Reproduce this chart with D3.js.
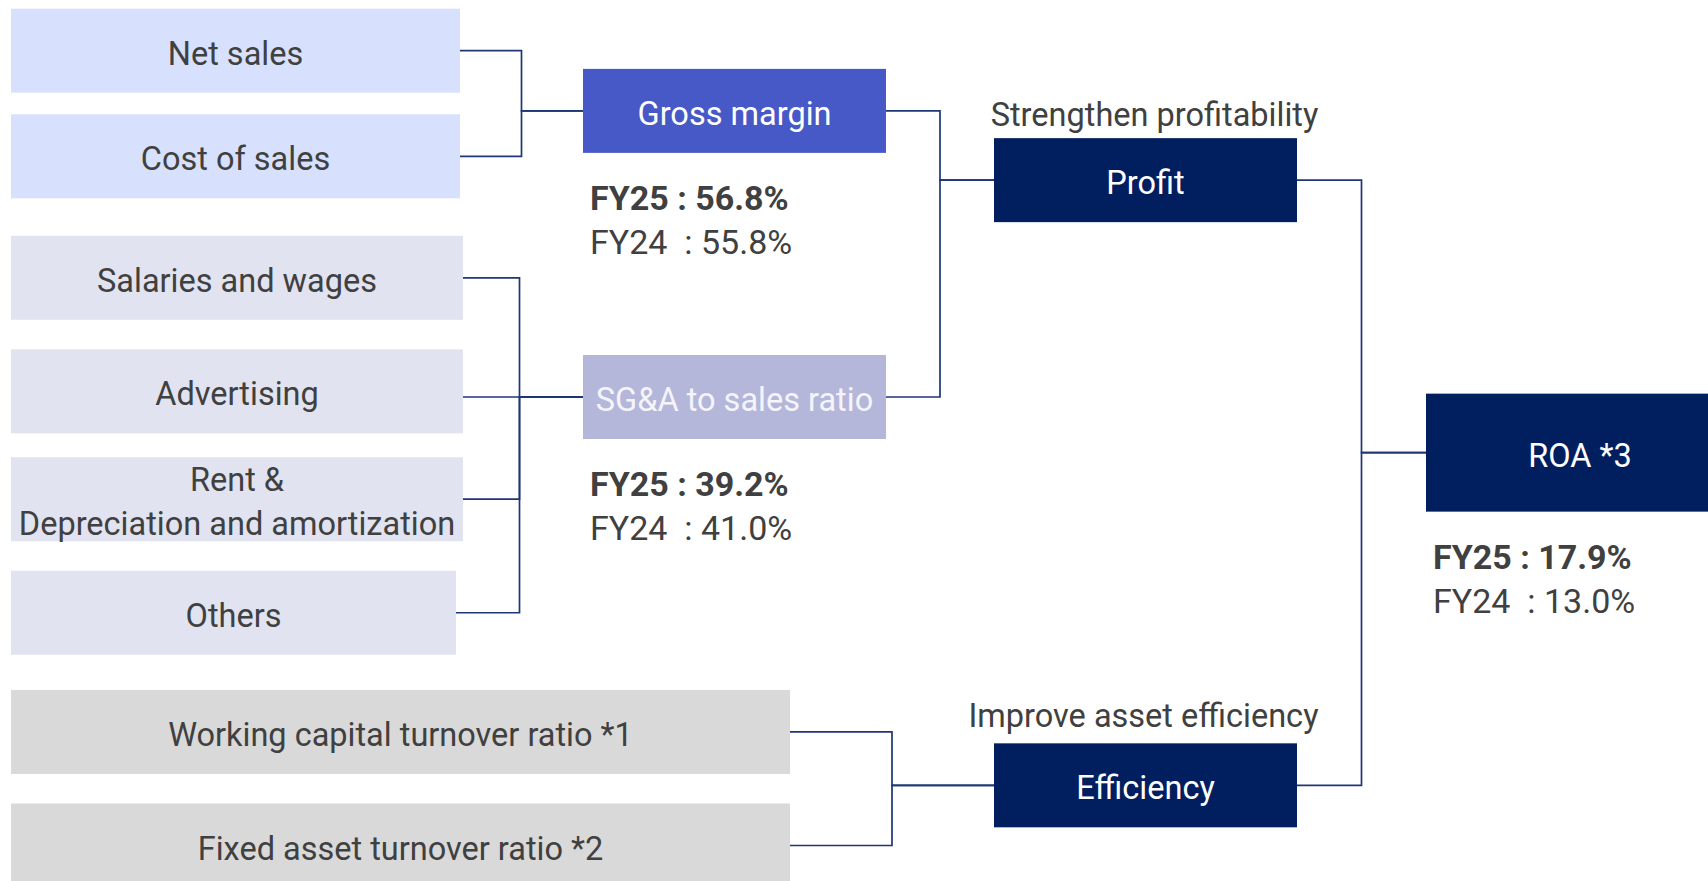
<!DOCTYPE html>
<html>
<head>
<meta charset="utf-8">
<script src="https://cdn.jsdelivr.net/npm/d3@7"></script>
<style>
  html, body { margin: 0; padding: 0; background: #fff; overflow: hidden; }
  svg { display: block; font-family: Roboto, "Noto Sans", sans-serif; }
</style>
</head>
<body>
<svg id="chart" width="1708" height="881"></svg>
<script>
'use strict';
/* global d3 */

// ---- data ----
var leafNames = ['Net sales', 'Cost of sales', 'Salaries and wages', 'Advertising',
  'Rent &\nDepreciation and amortization', 'Others',
  'Working capital turnover ratio *1', 'Fixed asset turnover ratio *2'];
var leafParents = ['Gross margin', 'Gross margin', 'SG&A to sales ratio', 'SG&A to sales ratio',
  'SG&A to sales ratio', 'SG&A to sales ratio', 'Efficiency', 'Efficiency'];
var midNames = ['Gross margin', 'SG&A to sales ratio'];
var midParents = ['Profit', 'Profit'];
var pillarNames = ['Profit', 'Efficiency'];
var pillarCaptions = ['Strengthen profitability', 'Improve asset efficiency'];
var rootName = 'ROA *3';
var kpiNames = ['Gross margin', 'SG&A to sales ratio', 'ROA *3'];
var fy25 = [56.8, 39.2, 17.9];
var fy24 = [55.8, 41.0, 13.0];

// ---- layout (row units / column index) ----
var leafRows = [0, 0.93, 2, 3, 3.95, 4.95, 6, 7];
var leafWidths = [449, 449, 452, 452, 452, 445, 779, 779];
var leafFills = ['#d7e1fd', '#d7e1fd', '#e1e3f1', '#e1e3f1', '#e1e3f1', '#e1e3f1', '#d9d9d9', '#d9d9d9'];
var midRows = [0.53, 3.05];
var midFills = ['#4659c6', '#b4b7da'];
var pillarRows = [1.14, 6.47];
var captionDx = [9, -2];
var captionDy = [-12, -16];
var rootRow = 3.54;

var y = d3.scaleLinear().domain([0, 7]).range([50.7, 845.5]);
var x = d3.scaleOrdinal().domain([0, 1, 2, 3]).range([11, 583, 994, 1426]);

var BOX_H = 84;
var LABEL_SIZE = 32.5;
var nodes = {};
leafNames.forEach(function (n, i) {
  nodes[n] = { name: n, x: x(0), w: leafWidths[i], cy: y(leafRows[i]), h: BOX_H,
    fill: leafFills[i], color: '#404040', parent: leafParents[i] };
});
midNames.forEach(function (n, i) {
  nodes[n] = { name: n, x: x(1), w: 303, cy: y(midRows[i]), h: BOX_H,
    fill: midFills[i], color: i === 0 ? '#ffffff' : '#f4f4fa', parent: midParents[i] };
});
pillarNames.forEach(function (n, i) {
  nodes[n] = { name: n, x: x(2), w: 303, cy: y(pillarRows[i]), h: BOX_H,
    fill: '#011f5f', color: '#ffffff', parent: rootName,
    caption: pillarCaptions[i], cdx: captionDx[i], cdy: captionDy[i] };
});
nodes[rootName] = { name: rootName, x: x(3), w: 308, cy: y(rootRow), h: 118,
  fill: '#011f5f', color: '#ffffff' };

var nodeList = Object.keys(nodes).map(function (k) { return nodes[k]; });

var svg = d3.select('#chart');

// ---- connectors ----
var parents = d3.group(nodeList.filter(function (d) { return d.parent; }), function (d) { return d.parent; });
var lines = svg.append('g')
  .attr('fill', 'none')
  .attr('stroke', '#1d3674')
  .attr('stroke-width', 1.7);

parents.forEach(function (kids, pName) {
  var p = nodes[pName];
  var busX = (d3.min(kids, function (k) { return k.x + k.w; }) + p.x) / 2;
  kids.forEach(function (k) {
    var ky = Math.abs(k.cy - p.cy) < 12 ? p.cy : k.cy;
    var path = d3.path();
    path.moveTo(k.x + k.w, ky);
    path.lineTo(busX, ky);
    path.lineTo(busX, p.cy);
    path.lineTo(p.x, p.cy);
    lines.append('path').attr('d', path.toString());
  });
});

// ---- boxes ----
var box = svg.append('g').selectAll('g')
  .data(nodeList)
  .join('g');

box.append('rect')
  .attr('x', function (d) { return d.x; })
  .attr('y', function (d) { return d.cy - d.h / 2; })
  .attr('width', function (d) { return d.w; })
  .attr('height', function (d) { return d.h; })
  .attr('fill', function (d) { return d.fill; });

box.append('text')
  .attr('text-anchor', 'middle')
  .attr('font-size', LABEL_SIZE)
  .attr('fill', function (d) { return d.color; })
  .each(function (d) {
    var parts = d.name.split('\n');
    var lh = 44.4;
    var base = d.cy + 14 - (parts.length - 1) * lh / 2;
    d3.select(this).selectAll('tspan')
      .data(parts)
      .join('tspan')
      .attr('x', d.x + d.w / 2)
      .attr('y', function (t, i) { return base + i * lh; })
      .text(function (t) { return t; });
  });

// captions over pillars
svg.append('g').selectAll('text')
  .data(nodeList.filter(function (d) { return d.caption; }))
  .join('text')
  .attr('text-anchor', 'middle')
  .attr('font-size', LABEL_SIZE)
  .attr('fill', '#404040')
  .attr('x', function (d) { return d.x + d.w / 2 + d.cdx; })
  .attr('y', function (d) { return d.cy - d.h / 2 + d.cdy; })
  .text(function (d) { return d.caption; });

// ---- KPI values ----
var kpi = svg.append('g').selectAll('text')
  .data(kpiNames.map(function (n, i) { return { node: nodes[n], a: fy25[i], b: fy24[i] }; }))
  .join('text')
  .attr('font-size', 34)
  .attr('fill', '#404040')
  .style('white-space', 'pre');

kpi.append('tspan')
  .attr('x', function (d) { return d.node.x + 7; })
  .attr('y', function (d) { return d.node.cy + d.node.h / 2 + 57; })
  .attr('font-weight', 'bold')
  .text(function (d) { return 'FY25 : ' + d.a.toFixed(1) + '%'; });

kpi.append('tspan')
  .attr('x', function (d) { return d.node.x + 7; })
  .attr('y', function (d) { return d.node.cy + d.node.h / 2 + 101; })
  .text(function (d) { return 'FY24  : ' + d.b.toFixed(1) + '%'; });
</script>
</body>
</html>
